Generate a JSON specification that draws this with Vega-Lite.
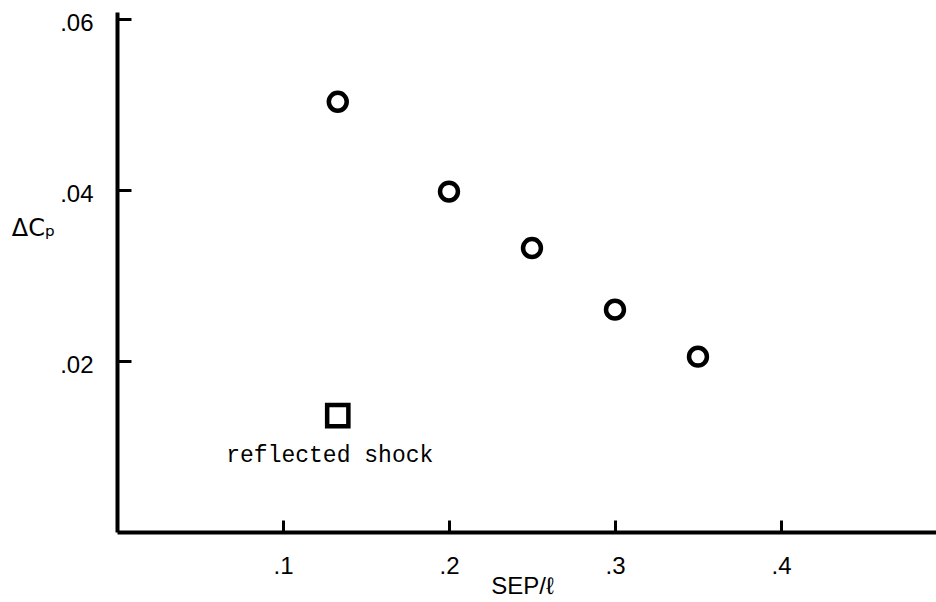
{
  "$schema": "https://vega.github.io/schema/vega-lite/v6.json",
  "width": 819,
  "height": 520,
  "autosize": {"type": "none"},
  "padding": {"left": 117, "top": 12, "right": 0, "bottom": 70},
  "background": "white",
  "config": {"view": {"stroke": null}},
  "data": {"values": [
    {"sep": 0.133, "dcp": 0.0503, "kind": "circle", "label": ""},
    {"sep": 0.2, "dcp": 0.0398, "kind": "circle", "label": ""},
    {"sep": 0.25, "dcp": 0.0332, "kind": "circle", "label": ""},
    {"sep": 0.3, "dcp": 0.026, "kind": "circle", "label": ""},
    {"sep": 0.35, "dcp": 0.0205, "kind": "circle", "label": ""},
    {"sep": 0.133, "dcp": 0.0136, "kind": "square", "label": "reflected shock"}
  ]},
  "layer": [
    {
      "mark": {"type": "point", "filled": false, "strokeWidth": 4.5, "color": "black", "opacity": 1},
      "encoding": {
        "x": {"field": "sep", "type": "quantitative",
          "scale": {"domain": [0, 0.4934], "nice": false, "zero": false},
          "axis": {
            "values": [0.1, 0.2, 0.3, 0.4],
            "labelExpr": "substring(format(datum.value, '.1f'), 1)",
            "title": "SEP/ℓ",
            "titleFont": "Liberation Sans", "titleFontSize": 24, "titleFontWeight": "normal", "titleColor": "black",
            "titleX": 405, "titleY": 61, "titleAlign": "center", "titleBaseline": "alphabetic",
            "labelFont": "Liberation Sans", "labelFontSize": 24, "labelColor": "black",
            "labelPadding": 34,
            "tickSize": -12, "tickWidth": 3, "tickColor": "black",
            "domainColor": "black", "domainWidth": 4,
            "grid": false
          }},
        "y": {"field": "dcp", "type": "quantitative",
          "scale": {"domain": [0, 0.0608], "nice": false, "zero": false},
          "axis": {
            "values": [0.02, 0.04, 0.06],
            "labelExpr": "substring(format(datum.value, '.2f'), 1)",
            "title": "ΔCₚ",
            "titleAngle": 0, "titleX": -84, "titleY": 216,
            "titleAlign": "center", "titleBaseline": "middle",
            "titleFont": "DejaVu Sans", "titleFontSize": 24, "titleFontWeight": "normal", "titleColor": "black",
            "labelFont": "Liberation Sans", "labelFontSize": 24, "labelColor": "black",
            "labelPadding": 38, "labelBaseline": "top", "labelOffset": -7,
            "tickSize": -14, "tickWidth": 3, "tickColor": "black",
            "domainColor": "black", "domainWidth": 4,
            "grid": false
          }},
        "shape": {"field": "kind", "type": "nominal",
          "scale": {"domain": ["circle", "square"], "range": ["circle", "square"]},
          "legend": null},
        "size": {"field": "kind", "type": "nominal",
          "scale": {"domain": ["circle", "square"], "range": [320, 450]},
          "legend": null}
      }
    },
    {
      "mark": {"type": "text", "font": "Liberation Mono", "fontSize": 23, "color": "black", "dx": -8, "dy": 39, "align": "center", "baseline": "middle"},
      "encoding": {
        "x": {"field": "sep", "type": "quantitative"},
        "y": {"field": "dcp", "type": "quantitative"},
        "text": {"field": "label"}
      }
    }
  ]
}
